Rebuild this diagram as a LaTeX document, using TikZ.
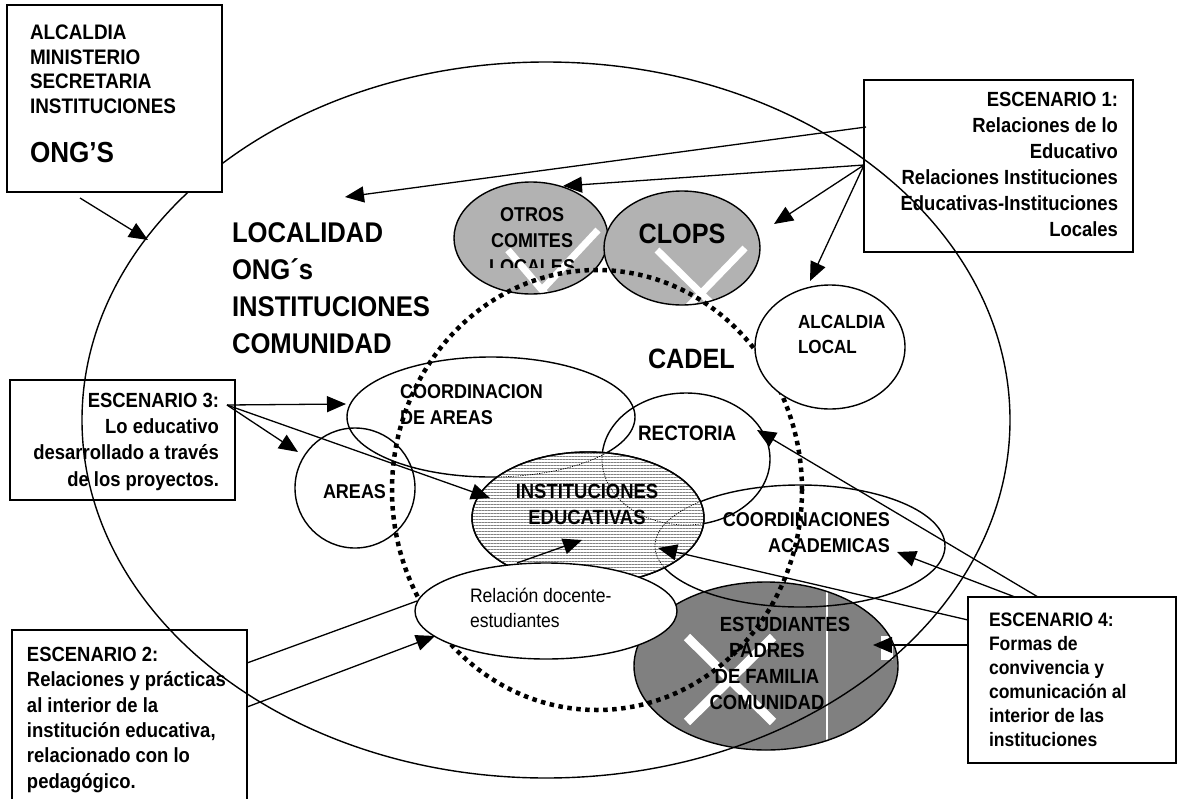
\documentclass[tikz,border=0pt]{standalone}
\usepackage{fontspec}
\setmainfont[FakeStretch=0.9]{Liberation Sans}
\usetikzlibrary{arrows.meta,shapes.geometric,patterns.meta}
\newcommand\fsz[2]{\fontsize{#1}{#2}\selectfont}
\definecolor{darkfill}{gray}{0.5}
\definecolor{lightfill}{gray}{0.7}
\tikzset{
  oval/.style={ellipse, draw, line width=1.4pt, inner sep=0pt, outer sep=0pt},
  frame/.style={draw, line width=1.6pt, inner sep=0pt, outer sep=0pt},
  lbl/.style={inner sep=0pt, outer sep=0pt},
  link/.style={line width=1.3pt},
  arrowlink/.style={link, -{Triangle[length=19pt,width=16pt]}},
  cadelring/.style={line width=4.5pt, dash pattern=on 4.5pt off 4.5pt},
  hidden/.style={line width=0.7pt, dash pattern=on 1.2pt off 1.2pt},
  wmark/.style={white, line width=8pt},
}
\begin{document}
\begin{tikzpicture}[x=1pt,y=-1pt]
\clip (0,0) rectangle (1178,798);
\fill[white] (0,0) rectangle (1178,798);

% community ellipse (students, parents)
\node[oval, fill=darkfill, minimum width=264pt, minimum height=168pt] (est) at (766,666) {};
\begin{scope}
  \clip (est.center) ellipse [x radius=131, y radius=83];
  \draw[wmark, line width=9pt] (687,637) -- (773,722);
  \draw[wmark, line width=9pt] (773,637) -- (687,722);
  \draw[white, line width=2.5pt] (827,586) -- (827,746);
  \fill[white] (881,636) rectangle (893,660);
\end{scope}

% local committees
\node[oval, fill=lightfill, minimum width=154pt, minimum height=112pt] (otros) at (531,238) {};
\begin{scope}
  \clip (otros.center) ellipse [x radius=76, y radius=55];
  \draw[wmark, line width=7pt] (508,250) -- (548,297);
  \draw[wmark, line width=7pt] (598,230) -- (540,292);
\end{scope}
\node[oval, fill=lightfill, minimum width=156pt, minimum height=114pt] (clops) at (682,248) {};
\begin{scope}
  \clip (clops.center) ellipse [x radius=77, y radius=56];
  \draw[wmark, line width=7pt] (657,250) -- (720,312);
  \draw[wmark, line width=7pt] (745,248) -- (683,312);
\end{scope}

% locality
\node[oval, minimum width=928pt, minimum height=716pt] (loc) at (546,420) {};
\node[frame, fill=white, minimum width=215pt, minimum height=187pt] (b1) at (114.5,98.5) {};

% school bodies
\node[oval, minimum width=288pt, minimum height=120pt] (coordA) at (491,417) {};
\node[oval, minimum width=120pt, minimum height=120pt] (areas) at (355,488) {};
\node[oval, minimum width=168pt, minimum height=132pt] (rect) at (686,459) {};
\node[oval, minimum width=290pt, minimum height=122pt] (coordAc) at (800,546) {};
\node[oval, fill=white, minimum width=232pt, minimum height=132pt,
      postaction={pattern={Lines[angle=0, distance=3pt, line width=0.5pt]}, pattern color=gray}] (inst) at (588,518) {};
\begin{scope}
  \clip (inst.center) ellipse [x radius=115, y radius=65];
  \draw[hidden] (rect.center) ellipse [x radius=84, y radius=66];
  \draw[hidden] (coordA.center) ellipse [x radius=144, y radius=60];
  \draw[hidden] (coordAc.center) ellipse [x radius=145, y radius=61];
\end{scope}
\node[oval, minimum width=232pt, minimum height=132pt] (instEdge) at (588,518) {};

% labels
\node[lbl, anchor=north west, align=left, font={\bfseries\fsz{21}{24.5}}] (t1) at (30,25)
  {ALCALDIA\\MINISTERIO\\SECRETARIA\\INSTITUCIONES};
\node[lbl, anchor=base west, font={\bfseries\fsz{29}{34}}] (t1b) at (30,162) {ONG’S};
\node[lbl, anchor=north west, align=left, font={\bfseries\fsz{28.5}{36.7}}] (tloc) at (232,223)
  {LOCALIDAD\\ONG´s\\INSTITUCIONES\\COMUNIDAD};
\begin{scope}
  \clip (440,150) rectangle (620,267);
  \node[lbl, anchor=north, align=center, font={\bfseries\fsz{20}{26}}] (totros) at (532,208)
    {OTROS\\COMITES\\LOCALES};
\end{scope}
\node[lbl, anchor=base, font={\bfseries\fsz{28}{33}}] (tclops) at (682,243) {CLOPS};
\node[lbl, anchor=base west, font={\bfseries\fsz{28}{33}}] (tcadel) at (648,368) {CADEL};
\node[lbl, anchor=north west, align=left, font={\bfseries\fsz{20}{26}}] (tcoordA) at (400,385)
  {COORDINACION\\DE AREAS};
\node[lbl, anchor=base west, font={\bfseries\fsz{20}{24}}] (tareas) at (323,498) {AREAS};
\node[lbl, anchor=north, align=center, font={\bfseries\fsz{20.5}{26}}] (tinst) at (587,484)
  {INSTITUCIONES\\EDUCATIVAS};
\node[lbl, anchor=base west, font={\bfseries\fsz{21}{24}}] (trect) at (638,440) {RECTORIA};
\node[lbl, anchor=north east, align=right, font={\bfseries\fsz{20}{26}}] (tcoordAc) at (890,513)
  {COORDINACIONES\\ACADEMICAS};
\node[lbl, anchor=north, align=center, font={\bfseries\fsz{20.5}{26}}] (test) at (767,617)
  {\hspace*{36pt}ESTUDIANTES\\PADRES\\DE FAMILIA\\COMUNIDAD};

% CADEL ring
\node[ellipse, cadelring, draw, inner sep=0pt, minimum width=410pt, minimum height=440pt] (cadel) at (597,490) {};

% bodies drawn over the ring
\node[oval, fill=white, minimum width=262pt, minimum height=96pt] (rel) at (546,611) {};
\node[lbl, anchor=north west, align=left, font={\fsz{19.5}{25}}] (trel) at (470,588)
  {Relación docente-\\estudiantes};
\node[oval, fill=white, minimum width=150pt, minimum height=124pt] (alc) at (830,347) {};
\node[lbl, anchor=north west, align=left, font={\bfseries\fsz{19}{25}}] (talc) at (798,315)
  {ALCALDIA\\LOCAL};

% scenario boxes
\node[frame, minimum width=269pt, minimum height=172pt] (e1) at (998.5,166) {};
\node[lbl, anchor=north east, align=right, font={\bfseries\fsz{20.5}{26}}] (te1) at (1118,92)
  {ESCENARIO 1:\\Relaciones de lo\\Educativo\\Relaciones Instituciones\\Educativas-Instituciones\\Locales};
\node[frame, minimum width=225pt, minimum height=120pt] (e3) at (122.5,440) {};
\node[lbl, anchor=north east, align=right, font={\bfseries\fsz{20.5}{26.3}}] (te3) at (219,393)
  {ESCENARIO 3:\\Lo educativo\\desarrollado a través\\de los proyectos.};
\node[frame, minimum width=235pt, minimum height=200pt] (e2) at (129.5,730) {};
\node[lbl, anchor=north west, align=left, font={\bfseries\fsz{20.5}{25.4}}] (te2) at (27,647)
  {ESCENARIO 2:\\Relaciones y prácticas\\al interior de la\\institución educativa,\\relacionado con lo\\pedagógico.};
\node[frame, minimum width=208pt, minimum height=166pt] (e4) at (1072,680) {};
\node[lbl, anchor=north west, align=left, font={\bfseries\fsz{19.5}{24}}] (te4) at (989,613)
  {ESCENARIO 4:\\Formas de\\convivencia y\\comunicación al\\interior de las\\instituciones};

% connector ends
\coordinate (b1out) at (80,198);   \coordinate (locIn) at (148,240);
\coordinate (e1outA) at (866,127); \coordinate (e1outB) at (864,165);
\coordinate (tlocIn) at (345,197); \coordinate (otrosIn) at (563,186);
\coordinate (clopsIn) at (774,224); \coordinate (alcIn) at (810,281);
\coordinate (e3out) at (227,405);
\coordinate (coordAIn) at (346,404); \coordinate (areasIn) at (298,452); \coordinate (instInA) at (490,498);
\coordinate (e2outA) at (247,663); \coordinate (relEdge) at (417,601);
\coordinate (e2outB) at (247,707); \coordinate (relIn) at (435,636);
\coordinate (relTop) at (517,563); \coordinate (instInB) at (582,540);
\coordinate (e4outA) at (1038,597); \coordinate (rectIn) at (757,430);
\coordinate (e4outB) at (1015,597); \coordinate (coordAcIn) at (897,552);
\coordinate (e4outC) at (968,620); \coordinate (instInC) at (658,548);
\coordinate (e4outD) at (968,645); \coordinate (estIn) at (873,645);

% connectors
\draw[arrowlink] (b1out) -- (locIn);
\draw[arrowlink] (e1outA) -- (tlocIn);
\draw[arrowlink] (e1outB) -- (otrosIn);
\draw[arrowlink] (e1outB) -- (clopsIn);
\draw[arrowlink] (e1outB) -- (alcIn);
\draw[arrowlink] (e3out) -- (coordAIn);
\draw[arrowlink] (e3out) -- (areasIn);
\draw[arrowlink] (e3out) -- (instInA);
\draw[link] (e2outA) -- (relEdge);
\draw[arrowlink] (e2outB) -- (relIn);
\draw[arrowlink] (relTop) -- (instInB);
\draw[arrowlink] (e4outA) -- (rectIn);
\draw[arrowlink] (e4outB) -- (coordAcIn);
\draw[arrowlink] (e4outC) -- (instInC);
\draw[arrowlink] (e4outD) -- (estIn);
\end{tikzpicture}
\end{document}
